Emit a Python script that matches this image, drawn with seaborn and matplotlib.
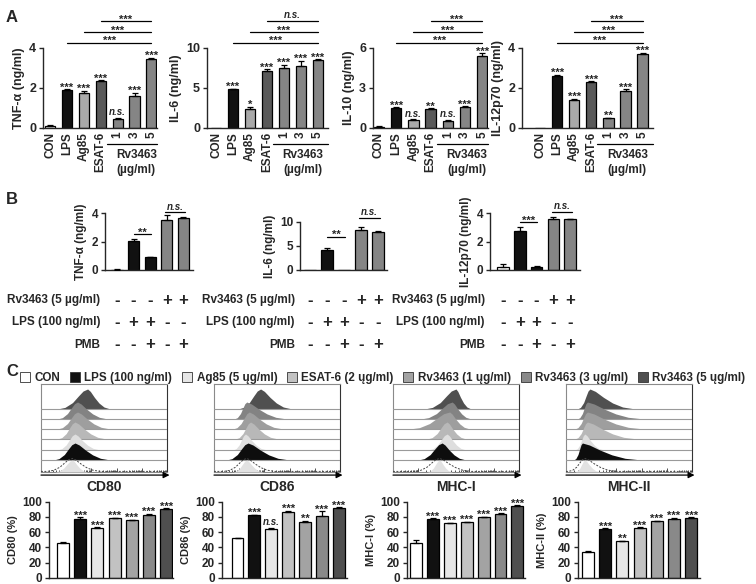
import matplotlib
matplotlib.use("Agg")
import matplotlib.pyplot as plt
import matplotlib.transforms as mtransforms
from matplotlib.patches import Patch
import numpy as np
import seaborn as sns

# ---------------- panel A: cytokines (ng/ml) ----------------
A_CATS = ["CON", "LPS", "Ag85", "ESAT-6", "1", "3", "5"]

TNF_A = [0.08, 1.9, 1.76, 2.32, 0.43, 1.6, 3.46]
TNF_A_ERR = [0.04, 0.03, 0.1, 0.05, 0.08, 0.14, 0.03]
TNF_A_SIG = ["", "***", "***", "***", "n.s.", "***", "***"]
TNF_A_BRK = ["***", "***", "***"]

IL6_A = [0.0, 4.8, 2.3, 7.15, 7.45, 7.75, 8.45]
IL6_A_ERR = [0, 0.05, 0.3, 0.15, 0.4, 0.6, 0.12]
IL6_A_SIG = ["", "***", "*", "***", "***", "***", "***"]
IL6_A_BRK = ["***", "***", "n.s."]

IL10_A = [0.08, 1.5, 0.55, 1.37, 0.5, 1.58, 5.35]
IL10_A_ERR = [0.02, 0.03, 0.08, 0.1, 0.06, 0.04, 0.25]
IL10_A_SIG = ["", "***", "n.s.", "**", "n.s.", "***", "***"]
IL10_A_BRK = ["***", "***", "***"]

IL12_A = [0.0, 2.58, 1.38, 2.3, 0.47, 1.85, 3.67]
IL12_A_ERR = [0, 0.06, 0.06, 0.03, 0.03, 0.07, 0.07]
IL12_A_SIG = ["", "***", "***", "***", "**", "***", "***"]
IL12_A_BRK = ["***", "***", "***"]

# ---------------- panel B: polymyxin B ----------------
B_CATS = ["CON", "LPS", "LPS+PMB", "Rv3463", "Rv3463+PMB"]
B_ROW_LABELS = ["Rv3463 (5 \u00b5g/ml)", "LPS (100 ng/ml)", "PMB"]
B_RV = ["-", "-", "-", "+", "+"]
B_LPS = ["-", "+", "+", "-", "-"]
B_PMB = ["-", "-", "+", "-", "+"]

TNF_B = [0.03, 2.05, 0.9, 3.5, 3.65]
TNF_B_ERR = [0.02, 0.1, 0.03, 0.35, 0.05]
IL6_B = [0.0, 4.1, 0.05, 8.3, 8.0]
IL6_B_ERR = [0, 0.5, 0, 0.6, 0.15]
IL12_B = [0.2, 2.75, 0.2, 3.6, 3.55]
IL12_B_ERR = [0.2, 0.3, 0.05, 0.1, 0.02]
TNF_B_SIG = ["**", "n.s."]
IL6_B_SIG = ["**", "n.s."]
IL12_B_SIG = ["***", "n.s."]

# ---------------- panel C: surface markers ----------------
C_GROUPS = ["CON", "LPS (100 ng/ml)", "Ag85 (5 \u0173g/ml)", "ESAT-6 (2 \u0173g/ml)",
            "Rv3463 (1 \u0173g/ml)", "Rv3463 (3 \u0173g/ml)", "Rv3463 (5 \u0173g/ml)"]

CD80 = [46, 77.5, 65.5, 78, 75.5, 82, 90.5]
CD80_ERR = [1, 2, 1, 1, 0.8, 2.5, 0.8]
CD80_SIG = ["", "***", "***", "***", "***", "***", "***"]
CD86 = [52, 82, 64, 87, 74, 81, 92]
CD86_ERR = [0.5, 1, 1.5, 1, 1, 6.5, 0.8]
CD86_SIG = ["", "***", "n.s.", "***", "**", "***", "***"]
MHC1 = [46, 77.5, 71.5, 73, 80, 84, 95]
MHC1_ERR = [4, 0.8, 1.2, 0.8, 0.6, 0.6, 0.3]
MHC1_SIG = ["", "***", "***", "***", "***", "***", "***"]
MHC2 = [34.5, 64.5, 48.5, 65.5, 74.5, 77, 78.5]
MHC2_ERR = [0.3, 0.6, 0.5, 1.2, 0.8, 2, 1.5]
MHC2_SIG = ["", "***", "**", "***", "***", "***", "***"]

# flow histograms: peak, left spread, right spread (fraction of the box), order as C_GROUPS
CD80_PEAK = [0.25, 0.27, 0.27, 0.27, 0.29, 0.29, 0.37]
CD80_LEFT = [0.14, 0.17, 0.14, 0.14, 0.16, 0.16, 0.24]
CD80_RIGHT = [0.12, 0.28, 0.20, 0.25, 0.26, 0.24, 0.18]
CD86_PEAK = [0.26, 0.27, 0.25, 0.29, 0.28, 0.26, 0.37]
CD86_LEFT = [0.11, 0.17, 0.10, 0.12, 0.13, 0.10, 0.18]
CD86_RIGHT = [0.13, 0.33, 0.17, 0.22, 0.27, 0.32, 0.25]
MHC1_PEAK = [0.37, 0.39, 0.43, 0.43, 0.45, 0.47, 0.50]
MHC1_LEFT = [0.10, 0.19, 0.15, 0.16, 0.32, 0.25, 0.25]
MHC1_RIGHT = [0.10, 0.19, 0.15, 0.15, 0.16, 0.15, 0.12]
MHC2_PEAK = [0.15, 0.13, 0.15, 0.17, 0.17, 0.17, 0.19]
MHC2_LEFT = [0.08, 0.07, 0.08, 0.10, 0.10, 0.08, 0.10]
MHC2_RIGHT = [0.12, 0.47, 0.15, 0.40, 0.45, 0.45, 0.36]
ISO_LEFT = [0.20, 0.18, 0.20, 0.13]
ISO_RIGHT = [0.22, 0.22, 0.25, 0.25]
HIST_HEIGHT = [12, 17, 16, 17, 17, 17, 20]
ISO_HEIGHT = 13
# typical single-peak histogram outline
SHAPE_T = [-1.0, -0.75, -0.5, -0.3, -0.15, 0.0, 0.12, 0.3, 0.5, 0.72, 1.0]
SHAPE_H = [0.0, 0.08, 0.32, 0.66, 0.9, 1.0, 0.88, 0.58, 0.3, 0.1, 0.0]

# ---------------- styles ----------------
A_COLORS = ["white", "#111111", "#a9a9a9", "#595959", "#858585", "#858585", "#858585"]
B_COLORS = ["white", "#111111", "#111111", "#858585", "#858585"]
C_COLORS = ["white", "#111111", "#e6e6e6", "#c2c2c2", "#a3a3a3", "#898989", "#4f4f4f"]
HIST_COLORS = ["#e2e2e2", "#0d0d0d", "#dedede", "#b8b8b8", "#9e9e9e", "#838383", "#505050"]

sns.set_style("ticks")
plt.rcParams["font.family"] = ["Liberation Sans", "DejaVu Sans"]
plt.rcParams["font.weight"] = "bold"
plt.rcParams["axes.linewidth"] = 1.0

W, H = 756, 584
fig = plt.figure(figsize=(W / 100, H / 100), dpi=100)


def rect(l, t, r, b):
    return [l / W, 1 - b / H, (r - l) / W, (b - t) / H]


def sig_text(ax, x, y, label, trans):
    italic = label == "n.s."
    ax.annotate(label, xy=(x, y), xycoords=trans, xytext=(0, 2 if italic else -1),
                textcoords="offset points", ha="center", va="baseline",
                fontsize=7 if italic else 8, fontstyle="italic" if italic else "normal",
                fontweight="bold", annotation_clip=False)


def bars(ax, cats, vals, errs, colors, width, layout, ylim, yticks, ylabel, sig=None,
         fs=9, fs_lab=9):
    L, R, c0, s = layout
    sns.barplot(x=cats, y=vals, hue=cats, order=cats, hue_order=cats, palette=colors,
                legend=False, saturation=1, width=width, errorbar=None,
                edgecolor="black", linewidth=0.9, ax=ax)
    pos = np.arange(len(cats))
    e = np.array(errs, dtype=float)
    v = np.array(vals, dtype=float)
    m = e > 0
    ax.errorbar(pos[m], v[m], yerr=[np.zeros(m.sum()), e[m]], fmt="none", ecolor="black",
                elinewidth=0.9, capsize=2.2, capthick=0.9, zorder=3)
    ax.set_xlim((L - c0) / s, (R - c0) / s)
    ax.set_ylim(*ylim)
    ax.set_yticks(yticks)
    ax.tick_params(axis="x", length=0)
    ax.tick_params(axis="y", length=3, width=1, labelsize=fs, pad=2)
    ax.set_ylabel(ylabel, fontsize=fs_lab, fontweight="bold", labelpad=3)
    ax.set_xlabel("")
    for t in ax.get_yticklabels():
        t.set_fontweight("bold")
    sns.despine(ax=ax)
    if sig is not None:
        for i, lab in enumerate(sig):
            if lab:
                sig_text(ax, i, v[i] + e[i], lab, ax.transData)


# ---------------- panel A ----------------
A_TOP, A_BOT = 47.7, 127.7
A_LAYOUT = [(43, 157, 50, 16.9), (207, 328, 216, 17.0), (373, 488, 379, 17.2), (522, 653, 540, 17.1)]
A_SETS = [
    (TNF_A, TNF_A_ERR, TNF_A_SIG, TNF_A_BRK, (0, 4), [0, 2, 4], "TNF-\u03b1 (ng/ml)"),
    (IL6_A, IL6_A_ERR, IL6_A_SIG, IL6_A_BRK, (0, 10), [0, 5, 10], "IL-6 (ng/ml)"),
    (IL10_A, IL10_A_ERR, IL10_A_SIG, IL10_A_BRK, (0, 6), [0, 3, 6], "IL-10 (ng/ml)"),
    (IL12_A, IL12_A_ERR, IL12_A_SIG, IL12_A_BRK, (0, 4), [0, 2, 4], "IL-12p70 (ng/ml)"),
]
BRK_Y = [1.06, 1.196, 1.333]
for lay, (vals, errs, sig, brk, ylim, yt, ylab) in zip(A_LAYOUT, A_SETS):
    ax = fig.add_axes(rect(lay[0], A_TOP, lay[1], A_BOT))
    bars(ax, A_CATS, vals, errs, A_COLORS, 0.6, lay, ylim, yt, ylab, sig)
    ax.set_xticks(range(len(A_CATS)))
    ax.set_xticklabels(A_CATS, rotation=90, fontsize=8.5, fontweight="bold")
    ax.tick_params(axis="x", pad=3)
    tr = ax.get_xaxis_transform()
    for start, yb, lab in zip([1, 2, 3], BRK_Y, brk):
        ax.plot([start, 6], [yb, yb], color="black", lw=0.9, transform=tr, clip_on=False)
        sig_text(ax, (start + 6) / 2, yb, lab, tr)
    xr = ax.get_xlim()[1]
    ax.plot([3.35, xr], [-0.204, -0.204], color="black", lw=0.9, transform=tr, clip_on=False)
    ax.text(5.1, -0.27, "Rv3463\n(\u00b5g/ml)", transform=tr, ha="center", va="top",
            fontsize=8.5, fontweight="bold", linespacing=1.35)

# ---------------- panel B ----------------
B_BOT = 270
B_LAYOUT = [(105, 193, 117, 16.6, 213), (300, 387, 310, 17.0, 222), (490, 580, 503, 16.8, 213)]
B_SETS = [
    (TNF_B, TNF_B_ERR, TNF_B_SIG, (0, 4), [0, 2, 4], "TNF-\u03b1 (ng/ml)", (2.5, 4.05)),
    (IL6_B, IL6_B_ERR, IL6_B_SIG, (0, 10), [0, 5, 10], "IL-6 (ng/ml)", (6.9, 10.9)),
    (IL12_B, IL12_B_ERR, IL12_B_SIG, (0, 4), [0, 2, 4], "IL-12p70 (ng/ml)", (3.35, 4.1)),
]
ROW_Y = [300, 322, 345]
for lay, (vals, errs, sig, ylim, yt, ylab, sy) in zip(B_LAYOUT, B_SETS):
    L, R, c0, s, top = lay
    ax = fig.add_axes(rect(L, top, R, B_BOT))
    bars(ax, B_CATS, vals, errs, B_COLORS, 0.68, (L, R, c0, s), ylim, yt, ylab, fs=8.5, fs_lab=8.5)
    ax.set_xticks([])
    for (a, b), yb, lab in zip([(1.0, 2.05), (2.9, 4.1)], sy, sig):
        ax.plot([a, b], [yb, yb], color="black", lw=0.9, clip_on=False)
        sig_text(ax, (a + b) / 2, yb, lab, ax.transData)
    tr = mtransforms.blended_transform_factory(ax.transData, fig.transFigure)
    for row, yy in zip([B_RV, B_LPS, B_PMB], ROW_Y):
        for i, sgn in enumerate(row):
            ax.text(i, 1 - yy / H, sgn, transform=tr, ha="center", va="center",
                    fontsize=12, fontweight="bold", clip_on=False)
    for lab, yy in zip(B_ROW_LABELS, ROW_Y):
        fig.text((L - 5) / W, 1 - yy / H, lab, ha="right", va="center", fontsize=8.5,
                 fontweight="bold")

# ---------------- panel C: histograms ----------------
HIST_BOXES = [(41, 167), (214, 340), (393, 519), (566, 692)]
HIST_TOP, HIST_BOT = 384, 472
ROW_BASE = [0, 12, 22, 33, 43, 53, 63]
HIST_SETS = [
    ("CD80", CD80_PEAK, CD80_LEFT, CD80_RIGHT),
    ("CD86", CD86_PEAK, CD86_LEFT, CD86_RIGHT),
    ("MHC-I", MHC1_PEAK, MHC1_LEFT, MHC1_RIGHT),
    ("MHC-II", MHC2_PEAK, MHC2_LEFT, MHC2_RIGHT),
]
st = np.array(SHAPE_T)
sh = np.array(SHAPE_H)
minor = [d * 0.2 + 0.2 * np.log10(k) for d in range(5) for k in range(2, 10)]
for j, ((l, r), (name, peak, left, right)) in enumerate(zip(HIST_BOXES, HIST_SETS)):
    ax = fig.add_axes(rect(l, HIST_TOP, r, HIST_BOT))
    ax.set_xlim(0, 1)
    ax.set_ylim(0, HIST_BOT - HIST_TOP)
    for k in reversed(range(7)):
        base = ROW_BASE[k]
        xs = peak[k] + np.where(st < 0, st * left[k], st * right[k])
        ax.fill_between(xs, base, base + sh * HIST_HEIGHT[k], color=HIST_COLORS[k], lw=0,
                        zorder=20 - k)
        if k > 0:
            ax.plot([0, 1], [base, base], color="#9a9a9a", lw=0.8, zorder=20 - k)
    xi = peak[0] + np.where(st < 0, st * ISO_LEFT[j], st * ISO_RIGHT[j])
    xi = np.concatenate([[0], xi, [1]])
    yi = np.concatenate([[0.6], sh * ISO_HEIGHT + 0.6, [0.6]])
    ax.plot(xi, yi, color="#444444", lw=0.7, ls=(0, (2, 1.5)), zorder=25)
    for sp in ax.spines.values():
        sp.set_color("#8a8a8a")
        sp.set_linewidth(0.8)
    ax.spines["right"].set_color("#333333")
    ax.set_yticks([])
    ax.set_xticks([0, 0.2, 0.4, 0.6, 0.8])
    ax.set_xticks(minor, minor=True)
    ax.tick_params(axis="x", which="both", direction="in", labelbottom=False,
                   width=0.6, color="#333333")
    ax.tick_params(axis="x", which="major", length=3)
    ax.tick_params(axis="x", which="minor", length=1.5)
    ax.annotate("", xy=(1.02, -0.035), xytext=(0.0, -0.035), xycoords="axes fraction",
                arrowprops=dict(arrowstyle="-|>", lw=0.9, color="black", mutation_scale=9,
                                shrinkA=0, shrinkB=0))
    ax.text(0.5, -0.17, name, transform=ax.transAxes, ha="center", va="center",
            fontsize=10, fontweight="bold")

# ---------------- panel C: bars ----------------
C_TOP, C_BOT = 501.7, 578
C_LAYOUT = [(49, 173, 63, 17.2), (222, 347, 237.5, 16.9), (407, 525, 416, 16.9), (578, 700, 588, 17.2)]
C_SETS = [
    (CD80, CD80_ERR, CD80_SIG, "CD80 (%)"),
    (CD86, CD86_ERR, CD86_SIG, "CD86 (%)"),
    (MHC1, MHC1_ERR, MHC1_SIG, "MHC-I (%)"),
    (MHC2, MHC2_ERR, MHC2_SIG, "MHC-II (%)"),
]
for lay, (vals, errs, sig, ylab) in zip(C_LAYOUT, C_SETS):
    ax = fig.add_axes(rect(lay[0], C_TOP, lay[1], C_BOT))
    bars(ax, C_GROUPS, vals, errs, C_COLORS, 0.7, lay, (0, 100), [0, 20, 40, 60, 80, 100], ylab,
         sig, fs=8.5, fs_lab=8)
    ax.set_xticks([])

handles = [Patch(facecolor=c, edgecolor="#333333", lw=0.6, label=g) for c, g in zip(C_COLORS, C_GROUPS)]
fig.legend(handles=handles, loc="center left", bbox_to_anchor=(20 / W, 1 - 378 / H), ncol=7,
           frameon=False, handlelength=0.85, handleheight=0.85, handletextpad=0.4,
           columnspacing=0.82, borderaxespad=0, borderpad=0,
           prop=dict(weight="bold", size=8.4))

# panel letters
for letter, y in [("A", 17), ("B", 200), ("C", 371)]:
    fig.text(6 / W, 1 - y / H, letter, ha="left", va="center", fontsize=12, fontweight="bold")

fig.savefig("out.png", dpi=100)
